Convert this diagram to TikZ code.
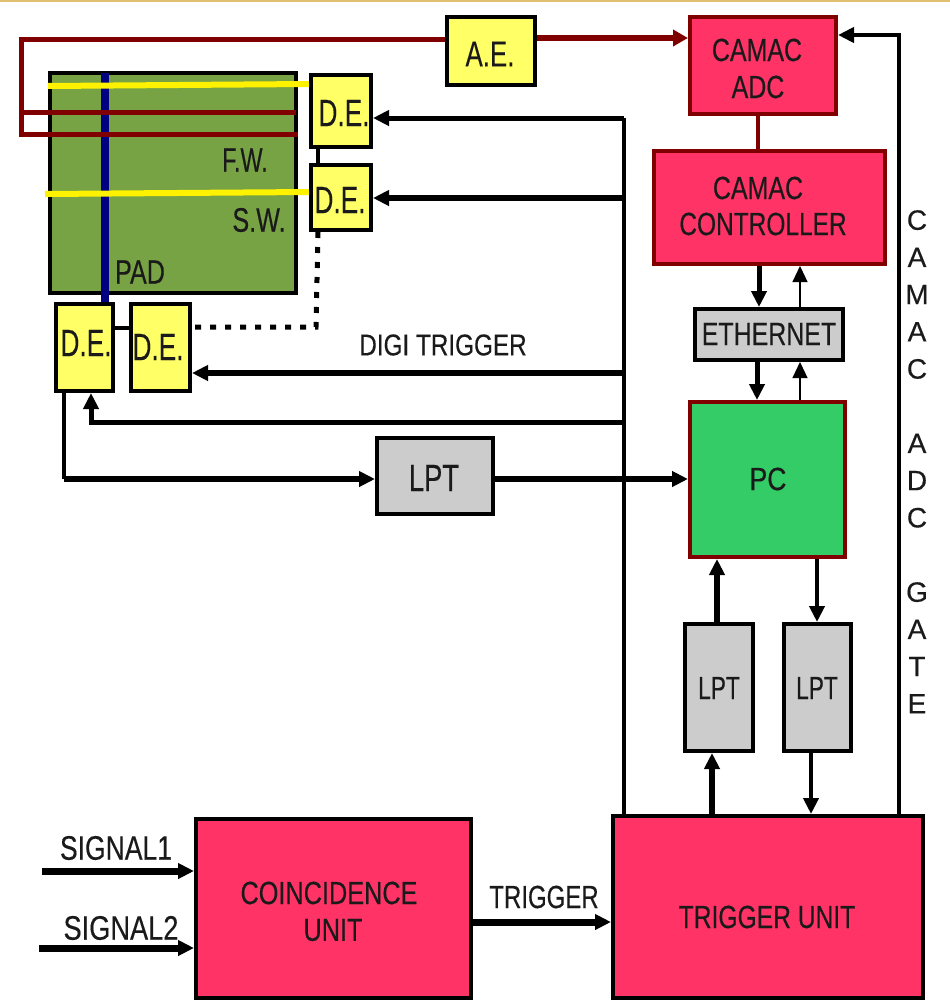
\documentclass[tikz,border=0pt]{standalone}
\usepackage{fontspec}
\setmainfont{Liberation Sans}[FakeBold=0.35]
\usetikzlibrary{arrows.meta}
\definecolor{dkred}{HTML}{800000}
\definecolor{navyb}{HTML}{000080}
\definecolor{boxyel}{HTML}{FFFF66}
\definecolor{padgreen}{HTML}{77A344}
\definecolor{pink}{HTML}{FF3366}
\definecolor{pcgreen}{HTML}{33CC66}
\definecolor{boxgrey}{HTML}{CCCCCC}
\definecolor{toprule}{HTML}{E0C070}
\definecolor{ink}{HTML}{1A1A1A}
\newcommand{\boxat}[6]{\node[#6,minimum width={#4-#2-4},minimum height={#5-#3-4}] (#1) at ({(#2+#4)/2},{(#3+#5)/2}) {};}
\tikzset{
  basebox/.style={draw,line width=4pt,inner sep=0pt,rectangle},
  yelbox/.style={basebox,draw=black,fill=boxyel},
  greybox/.style={basebox,draw=black,fill=boxgrey},
  padbox/.style={basebox,draw=black,fill=padgreen},
  camacbox/.style={basebox,draw=dkred,fill=pink},
  pcbox/.style={basebox,draw=dkred,fill=pcgreen},
  unitbox/.style={basebox,draw=black,fill=pink},
  lbl/.style 2 args={font=\fontsize{#1}{#1}\selectfont,text=ink,inner sep=0pt,xscale=#2,transform shape,align=center},
  tip/.style={-{Triangle[length=16pt,width=15pt]}},
  wire/.style={draw=black,line width=#1},
  wire/.default=4.5pt,
  redwire/.style={draw=dkred,line width=5pt},
  yelwire/.style={draw=yellow,line width=6pt},
}
\begin{document}
\begin{tikzpicture}[x=1pt,y=-1pt]
\useasboundingbox (0,0) rectangle (950,1001);
\fill[white] (0,0) rectangle (950,1001);
\coordinate (ruleL) at (0,1); \coordinate (ruleR) at (950,1);
\draw[toprule,line width=2.5pt] (ruleL) -- (ruleR);
% boxes
\boxat{pad}{48}{71}{298}{295}{padbox}
\boxat{de1}{309}{73}{373}{149}{yelbox}
\boxat{de2}{309}{163}{373}{232}{yelbox}
\boxat{de3}{54}{302}{115}{393}{yelbox}
\boxat{de4}{129}{302}{192}{393}{yelbox}
\boxat{ae}{445}{15}{537}{87}{yelbox}
\boxat{adc}{688}{15}{838}{116}{camacbox}
\boxat{ctrl}{652}{149}{887}{266}{camacbox}
\boxat{eth}{693}{307}{845}{362}{greybox}
\boxat{pc}{688}{400}{847}{559}{pcbox}
\boxat{lptm}{375}{436}{495}{516}{greybox}
\boxat{lpta}{683}{622}{755}{753}{greybox}
\boxat{lptb}{782}{622}{853}{753}{greybox}
\boxat{coin}{194}{817}{473}{1000}{unitbox}
\boxat{trig}{611}{814}{925}{1000}{unitbox}
% detector strips
\coordinate (bluetop) at (105,73);
\draw[navyb,line width=8pt] (bluetop) -- (de3.north -| bluetop);
\coordinate (y1a) at (48,86); \coordinate (y1b) at (309,84);
\coordinate (y2a) at (45,194); \coordinate (y2b) at (309,192);
\draw[yelwire] (y1a) -- (y1b);
\draw[yelwire] (y2a) -- (y2b);
\coordinate (r0) at (21,39); \coordinate (r1) at (21,112); \coordinate (r2) at (21,134);
\coordinate (r1e) at (296,112); \coordinate (r2e) at (298,134);
\draw[redwire,line join=miter] (ae.west |- r0) -- (r0) -- (r2) -- (r2e);
\draw[redwire] (r1) -- (r1e);
\coordinate (ra) at (537,38);
\draw[draw=dkred,line width=6pt,-{Triangle[length=15pt,width=16pt]}] (ra) -- (adc.west |- ra);
\coordinate (cam) at (758,116);
\draw[draw=dkred,line width=4pt] (adc.south -| cam) -- (ctrl.north -| cam);
% detector electronics links
\coordinate (l1) at (318,149); \coordinate (l2) at (115,328);
\draw[wire] (de1.south -| l1) -- (de2.north -| l1);
\draw[wire] (de3.east |- l2) -- (de4.west |- l2);
\coordinate (d1) at (318,232); \coordinate (d2) at (316,327);
\draw[draw=black,line width=5pt,dash pattern=on 6pt off 9pt] (d1) -- (d2) -- (de4.east |- d2);
% trigger trunk
\coordinate (t1) at (624,118); \coordinate (t2) at (624,198); \coordinate (t3) at (624,373); \coordinate (t4) at (624,422);
\coordinate (t5) at (91,422);
\draw[wire] (trig.north -| t1) -- (t1);
\draw[wire=5pt,tip] (t1) -- (de1.east |- t1);
\draw[wire=6pt,tip] (t2) -- (de2.east |- t2);
\draw[wire=6pt,tip] (t3) -- (de4.east |- t3);
\draw[wire=5pt,tip] (t4) -- (t5) -- (de3.south -| t5);
% LPT line
\coordinate (p0) at (64,479);
\draw[wire] (de3.south -| p0) -- (p0);
\draw[wire=6.5pt,tip] (p0) -- (lptm.west |- p0);
\draw[wire=6.5pt,tip] (lptm.east |- p0) -- (pc.west |- p0);
% ethernet
\coordinate (e1) at (759,300); \coordinate (e2) at (800,300); \coordinate (e3) at (757,380); \coordinate (e4) at (800,380);
\draw[wire=5pt,tip] (ctrl.south -| e1) -- (eth.north -| e1);
\draw[wire=1.2pt,tip] (eth.north -| e2) -- (ctrl.south -| e2);
\draw[wire=5pt,tip] (eth.south -| e3) -- (pc.north -| e3);
\draw[wire=1.2pt,tip] (pc.north -| e4) -- (eth.south -| e4);
% PC - LPT - trigger
\coordinate (a1) at (717,590); \coordinate (a2) at (817,590); \coordinate (a3) at (712,790); \coordinate (a4) at (811,790);
\draw[wire=6pt,tip] (lpta.north -| a1) -- (pc.south -| a1);
\draw[wire=4.5pt,tip] (pc.south -| a2) -- (lptb.north -| a2);
\draw[wire=6pt,tip] (trig.north -| a3) -- (lpta.south -| a3);
\draw[wire=4pt,tip] (lptb.south -| a4) -- (trig.north -| a4);
% ADC gate
\coordinate (g1) at (899,35);
\draw[wire=4.5pt,tip] (trig.north -| g1) -- (g1) -- (adc.east |- g1);
% signals
\coordinate (s1) at (42,871); \coordinate (s2) at (39,948); \coordinate (s3) at (473,922);
\draw[wire=7pt,tip] (s1) -- (coin.west |- s1);
\draw[wire=7pt,tip] (s2) -- (coin.west |- s2);
\draw[wire=7pt,tip] (coin.east |- s3) -- (trig.west |- s3);
% labels
\node[lbl={38}{.69}] (tde1) at (344,113) {D.E.};
\node[lbl={38}{.69}] (tde2) at (340,200) {D.E.};
\node[lbl={38}{.69}] (tde3) at (86,343) {D.E.};
\node[lbl={38}{.69}] (tde4) at (158,347) {D.E.};
\node[lbl={34}{.69}] (tfw) at (245,160) {F.W.};
\node[lbl={34}{.74}] (tsw) at (259,220) {S.W.};
\node[lbl={34}{.74}] (tpad) at (140,272) {PAD};
\node[lbl={36}{.72}] (tae) at (490,54) {A.E.};
\node[lbl={32}{.78}] (tadc1) at (757,50) {CAMAC};
\node[lbl={32}{.78}] (tadc2) at (758,87) {ADC};
\node[lbl={32}{.78}] (tc1) at (758,188) {CAMAC};
\node[lbl={32}{.765}] (tc2) at (763,224) {CONTROLLER};
\node[lbl={32}{.78}] (teth) at (769,334) {ETHERNET};
\node[lbl={30}{.81}] (tdigi) at (443,345) {DIGI TRIGGER};
\node[lbl={38}{.72}] (tlptm) at (434,478) {LPT};
\node[lbl={32}{.83}] (tpc) at (768,479) {PC};
\node[lbl={32}{.71}] (tlpta) at (719,688) {LPT};
\node[lbl={32}{.71}] (tlptb) at (817,688) {LPT};
\node[lbl={34}{.78}] (tsig1) at (116,848) {SIGNAL1};
\node[lbl={34}{.8}] (tsig2) at (121,928) {SIGNAL2};
\node[lbl={32}{.79}] (tcoin1) at (329,893) {COINCIDENCE};
\node[lbl={32}{.79}] (tcoin2) at (333,930) {UNIT};
\node[lbl={32}{.75}] (ttrig) at (544,897) {TRIGGER};
\node[lbl={32}{.77}] (ttu) at (767,917) {TRIGGER UNIT};
\node[font=\fontsize{28}{37.2}\selectfont,text=ink,inner sep=0pt,align=center,anchor=north] (tgate) at (917,210) {C\\A\\M\\A\\C\\[37.2pt]A\\D\\C\\[37.2pt]G\\A\\T\\E};
\end{tikzpicture}
\end{document}
